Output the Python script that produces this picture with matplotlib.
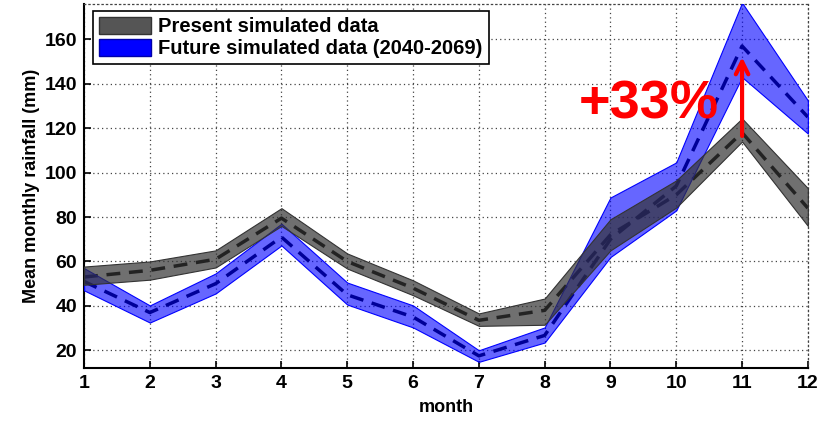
import numpy as np
import matplotlib.pyplot as plt
from matplotlib.patches import Patch

plt.rcParams['font.family'] = ['Liberation Sans', 'DejaVu Sans']

months = [1, 2, 3, 4, 5, 6, 7, 8, 9, 10, 11, 12]

# present simulated data: mean and band
present_mean = [53, 56, 61, 79.5, 60, 48, 33.5, 38, 72, 90, 118, 84]
present_lo = [49.5, 51.8, 57.3, 76, 56.8, 44.8, 31, 31.5, 65, 84.3, 114, 76]
present_hi = [57.7, 60, 65, 84, 63.6, 51.5, 36.6, 43.3, 79, 96.5, 124.4, 93]

# future simulated data (2040-2069)
future_mean = [51, 37, 50, 71, 45, 35, 17.5, 26.7, 70, 94, 157, 125]
future_lo = [47, 32.5, 45.6, 67.2, 40.6, 30.3, 14.8, 23.5, 62, 83, 143, 117.6]
future_hi = [57, 40.2, 54.6, 77, 50.5, 40.2, 20, 30.3, 88.8, 104.6, 176.5, 132.5]

fig = plt.figure(figsize=[8.32, 4.26], dpi=100)
ax = fig.add_axes([0.101, 0.136, 0.870, 0.855])

# mean lines first, the fills go over them
ax.plot(months, present_mean, color='black', lw=2.5, ls=(0, (4, 2.5)), zorder=2)
ax.plot(months, future_mean, color='black', lw=2.5, ls=(0, (4, 2.5)), zorder=2)

ax.fill_between(months, future_lo, future_hi, facecolor=(0, 0, 1, 0.6),
                edgecolor='blue', lw=0.8, zorder=3)
ax.fill_between(months, present_lo, present_hi, facecolor=(0.2, 0.2, 0.2, 0.7),
                edgecolor=(0.2, 0.2, 0.2), lw=0.8, zorder=4)

# change in November
ax.annotate('', xy=(11, 152), xytext=(11, 116.5),
            arrowprops=dict(arrowstyle='->,head_length=0.9,head_width=0.45',
                            color='red', lw=3, shrinkA=0, shrinkB=0), zorder=5)
ax.text(8.52, 130.5, '+33%', color='red', fontsize=39, fontweight='bold',
        ha='left', va='center', zorder=6)

ax.set_xlim(1, 12)
ax.set_ylim(12, 176)
ax.set_xticks(months)
ax.set_yticks([20, 40, 60, 80, 100, 120, 140, 160])
ax.grid(True, ls=(0, (1, 2.5)), color='#444444', lw=0.9)
ax.tick_params(direction='in', length=5, width=1.2, labelsize=14, pad=5)
for lab in ax.get_xticklabels() + ax.get_yticklabels():
    lab.set_fontweight('bold')

for s in ['left', 'bottom']:
    ax.spines[s].set_linewidth(1.5)
for s in ['top', 'right']:
    ax.spines[s].set_linestyle((0, (1, 2.5)))
    ax.spines[s].set_color('#444444')
    ax.spines[s].set_linewidth(0.9)

ax.set_xlabel('month', fontsize=13, fontweight='bold', labelpad=5)
ax.set_ylabel('Mean monthly rainfall (mm)', fontsize=13, fontweight='bold', labelpad=3)

handles = [Patch(facecolor='#555555', edgecolor='#333333'),
           Patch(facecolor='#0000ff', edgecolor='#0000aa')]
leg = ax.legend(handles, ['Present simulated data', 'Future simulated data (2040-2069)'],
                loc='upper left', bbox_to_anchor=(0.012, 0.981), borderaxespad=0,
                prop={'size': 14.5, 'weight': 'bold'}, handlelength=2.6, handleheight=0.9,
                fancybox=False, framealpha=1, edgecolor='black',
                borderpad=0.3, labelspacing=0.15, handletextpad=0.35)
leg.get_frame().set_linewidth(1.2)
leg.set_zorder(10)

plt.savefig('out.png', dpi=100)
